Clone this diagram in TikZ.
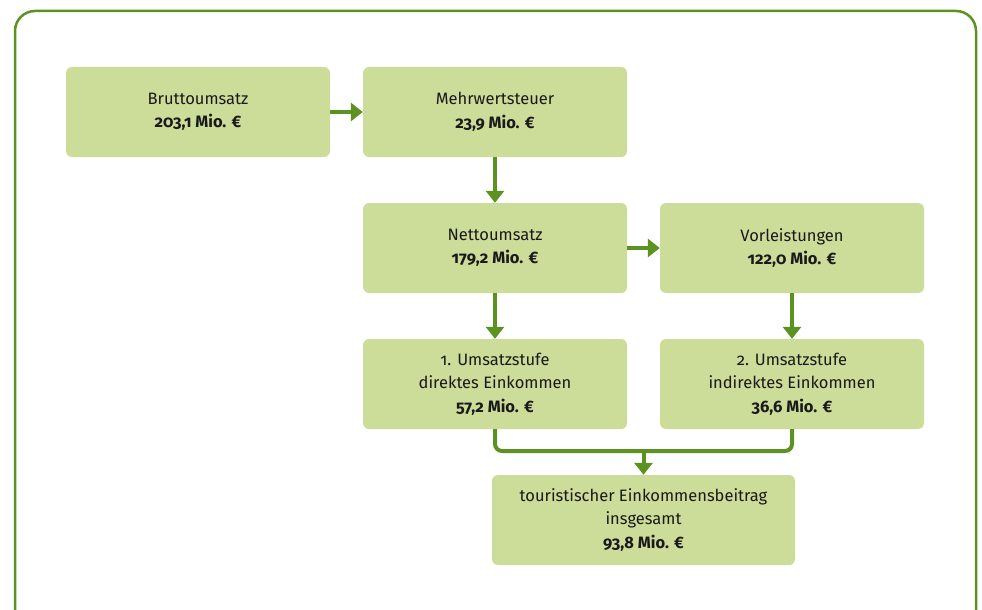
\documentclass[tikz,border=0pt]{standalone}
\usepackage{fontspec}
\setmainfont{Fira Sans}[RawFeature=+onum]
\usepackage{xcolor}
\usetikzlibrary{arrows.meta, positioning}
\definecolor{boxfill}{RGB}{204, 220, 153}
\definecolor{leaf}{RGB}{92, 146, 34}
\definecolor{ink}{RGB}{25, 25, 25}

\begin{document}
\begin{tikzpicture}[
  x=1pt, y=-1pt,
  every node/.style = {font=\fontsize{16.5}{23.5}\selectfont, text=ink},
  blk/.style = {
    rectangle, rounded corners=6pt,
    fill=boxfill, draw=none,
    minimum width=264pt, minimum height=90pt,
    align=center, inner sep=2pt
  },
  arr/.style = {-{Triangle[width=18pt, length=12pt]}, line width=4pt, draw=leaf},
  lnk/.style = {line width=4pt, draw=leaf, rounded corners=7pt}
]
\useasboundingbox (0,0) rectangle (982,610);

% ---- FRAME ----
\draw[leaf, line width=2.5pt, rounded corners=20pt] (15,11) rectangle (976,640);

% ---- ROW 1 (y=112) ----
\node[blk] (brutto) at (198,112) {Bruttoumsatz\\\textbf{203,1 Mio. €}};
\node[blk] (mwst)   at (495,112) {Mehrwertsteuer\\\textbf{23,9 Mio. €}};

% ---- ROW 2 (y=248) ----
\node[blk] (netto)  at (495,248) {Nettoumsatz\\\textbf{179,2 Mio. €}};
\node[blk] (vorl)   at (792,248) {Vorleistungen\\\textbf{122,0 Mio. €}};

% ---- ROW 3 (y=384) ----
\node[blk] (stufe1) at (495,384) {1. Umsatzstufe\\direktes Einkommen\\\textbf{57,2 Mio. €}};
\node[blk] (stufe2) at (792,384) {2. Umsatzstufe\\indirektes Einkommen\\\textbf{36,6 Mio. €}};

% ---- ROW 4 (y=520) ----
\node[blk, minimum width=303pt] (gesamt) at (643.5,520)
  {touristischer Einkommensbeitrag\\insgesamt\\\textbf{93,8 Mio. €}};

\coordinate (merge) at (643.5,451);

% ---- ARROWS ----
\draw[arr] (brutto) -- (mwst);
\draw[arr] (mwst)   -- (netto);
\draw[arr] (netto)  -- (vorl);
\draw[arr] (netto)  -- (stufe1);
\draw[arr] (vorl)   -- (stufe2);

% ---- merge of both stages ----
\draw[lnk] (stufe1.south) |- (merge) -| (stufe2.south);
\draw[arr] (merge) -- (gesamt.north);

\end{tikzpicture}
\end{document}
